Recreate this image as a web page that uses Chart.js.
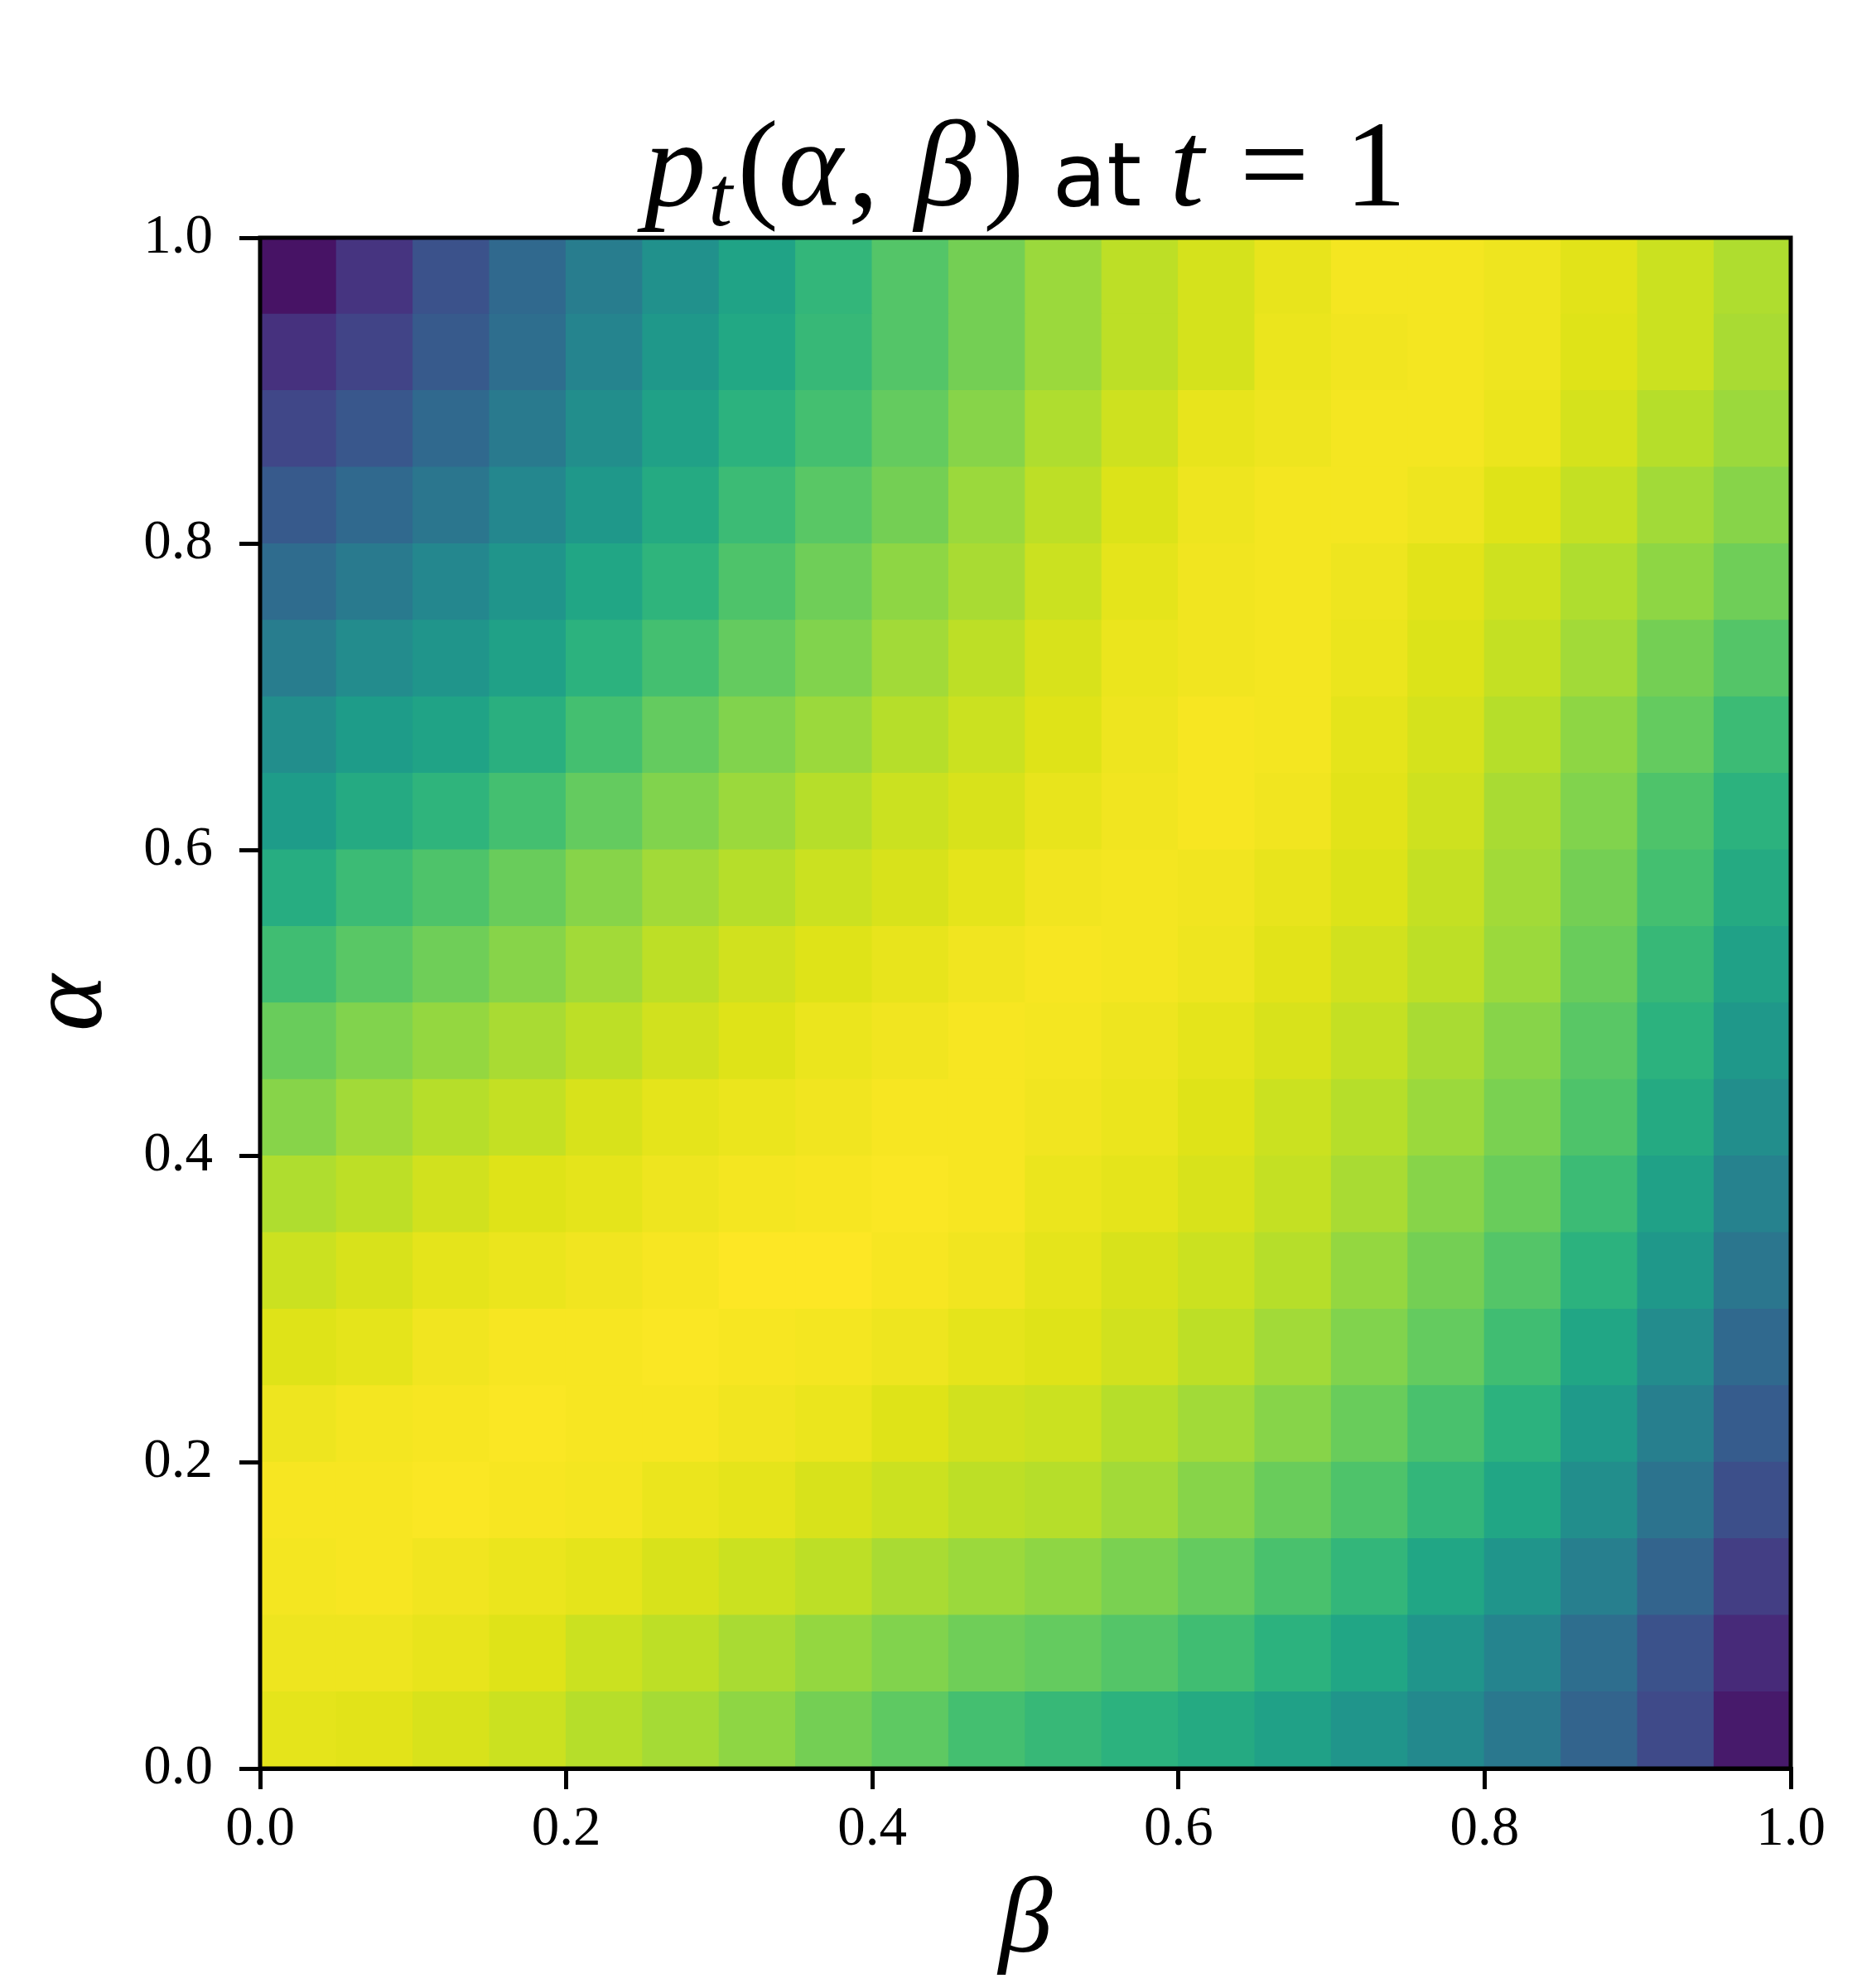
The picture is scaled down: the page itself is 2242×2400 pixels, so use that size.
<!DOCTYPE html>
<html>
<head>
<meta charset="utf-8">
<script src="https://cdn.jsdelivr.net/npm/chart.js@4.4.1/dist/chart.umd.min.js"></script>
<style>
  html, body { margin: 0; padding: 0; background: #ffffff; }
  #wrap { width: 2242px; height: 2400px; position: relative; }
</style>
</head>
<body>
<div id="wrap"><canvas id="c" width="2242" height="2400"></canvas></div>
<script>
// ---------------- DATA ----------------
// cell edges along beta (x) and alpha (y)
const betaEdges  = [0, 0.05, 0.10, 0.15, 0.20, 0.25, 0.30, 0.35, 0.40, 0.45, 0.50,
                    0.55, 0.60, 0.65, 0.70, 0.75, 0.80, 0.85, 0.90, 0.95, 1.00];
const alphaEdges = [0, 0.05, 0.10, 0.15, 0.20, 0.25, 0.30, 0.35, 0.40, 0.45, 0.50,
                    0.55, 0.60, 0.65, 0.70, 0.75, 0.80, 0.85, 0.90, 0.95, 1.00];

// normalised p_t(alpha, beta); one row per alpha cell, bottom (alpha≈0) to top (alpha≈1),
// each row runs over beta from 0 to 1
const pRows = [
  [0.96, 0.955, 0.94, 0.92, 0.89, 0.865, 0.83, 0.79, 0.75, 0.70, 0.67, 0.64, 0.61, 0.57, 0.52, 0.47, 0.40, 0.32, 0.22, 0.07],
  [0.975, 0.975, 0.965, 0.95, 0.92, 0.90, 0.87, 0.84, 0.81, 0.78, 0.76, 0.73, 0.69, 0.64, 0.59, 0.52, 0.45, 0.36, 0.25, 0.12],
  [0.985, 0.99, 0.98, 0.97, 0.96, 0.94, 0.92, 0.90, 0.87, 0.85, 0.83, 0.80, 0.76, 0.71, 0.66, 0.59, 0.52, 0.43, 0.32, 0.18],
  [0.99, 0.99, 0.995, 0.99, 0.985, 0.97, 0.96, 0.94, 0.92, 0.90, 0.89, 0.86, 0.82, 0.77, 0.72, 0.66, 0.59, 0.49, 0.38, 0.24],
  [0.975, 0.985, 0.99, 0.995, 0.99, 0.99, 0.98, 0.97, 0.95, 0.93, 0.92, 0.89, 0.86, 0.82, 0.77, 0.71, 0.64, 0.54, 0.43, 0.29],
  [0.95, 0.96, 0.98, 0.99, 0.99, 0.995, 0.99, 0.985, 0.975, 0.96, 0.95, 0.93, 0.90, 0.86, 0.81, 0.76, 0.69, 0.59, 0.48, 0.34],
  [0.92, 0.94, 0.96, 0.97, 0.98, 0.99, 1.00, 1.00, 0.99, 0.98, 0.96, 0.94, 0.92, 0.89, 0.84, 0.79, 0.73, 0.64, 0.53, 0.39],
  [0.88, 0.90, 0.93, 0.95, 0.96, 0.975, 0.985, 0.99, 0.995, 0.99, 0.97, 0.96, 0.94, 0.91, 0.87, 0.82, 0.77, 0.68, 0.57, 0.44],
  [0.82, 0.86, 0.89, 0.91, 0.94, 0.96, 0.97, 0.98, 0.99, 0.99, 0.98, 0.97, 0.95, 0.92, 0.89, 0.85, 0.80, 0.72, 0.61, 0.49],
  [0.77, 0.81, 0.84, 0.87, 0.90, 0.93, 0.95, 0.97, 0.98, 0.99, 0.985, 0.975, 0.96, 0.94, 0.91, 0.87, 0.82, 0.74, 0.64, 0.53],
  [0.69, 0.74, 0.78, 0.82, 0.86, 0.90, 0.93, 0.95, 0.965, 0.98, 0.99, 0.985, 0.975, 0.955, 0.93, 0.90, 0.85, 0.77, 0.67, 0.57],
  [0.62, 0.68, 0.72, 0.77, 0.82, 0.86, 0.89, 0.92, 0.94, 0.96, 0.98, 0.985, 0.98, 0.965, 0.945, 0.91, 0.86, 0.79, 0.70, 0.61],
  [0.55, 0.61, 0.65, 0.70, 0.76, 0.81, 0.85, 0.89, 0.92, 0.94, 0.965, 0.98, 0.99, 0.98, 0.955, 0.925, 0.87, 0.81, 0.72, 0.64],
  [0.49, 0.55, 0.58, 0.63, 0.70, 0.76, 0.81, 0.85, 0.89, 0.92, 0.95, 0.975, 0.99, 0.985, 0.96, 0.935, 0.89, 0.83, 0.76, 0.68],
  [0.42, 0.48, 0.52, 0.57, 0.64, 0.70, 0.76, 0.81, 0.86, 0.90, 0.94, 0.97, 0.98, 0.985, 0.97, 0.945, 0.91, 0.86, 0.79, 0.73],
  [0.35, 0.41, 0.46, 0.52, 0.59, 0.65, 0.72, 0.78, 0.83, 0.87, 0.92, 0.96, 0.98, 0.985, 0.975, 0.955, 0.925, 0.88, 0.83, 0.78],
  [0.28, 0.34, 0.39, 0.46, 0.53, 0.61, 0.68, 0.74, 0.79, 0.85, 0.90, 0.945, 0.975, 0.985, 0.985, 0.975, 0.95, 0.91, 0.86, 0.82],
  [0.21, 0.27, 0.34, 0.41, 0.49, 0.57, 0.64, 0.70, 0.76, 0.82, 0.88, 0.925, 0.965, 0.975, 0.985, 0.985, 0.97, 0.935, 0.89, 0.85],
  [0.14, 0.20, 0.28, 0.36, 0.45, 0.53, 0.60, 0.67, 0.73, 0.79, 0.85, 0.90, 0.935, 0.97, 0.98, 0.985, 0.975, 0.95, 0.92, 0.87],
  [0.05, 0.15, 0.25, 0.34, 0.42, 0.50, 0.58, 0.66, 0.73, 0.79, 0.85, 0.90, 0.935, 0.965, 0.985, 0.985, 0.975, 0.955, 0.92, 0.88]
];

const xTickValues = [0.0, 0.2, 0.4, 0.6, 0.8, 1.0];
const yTickValues = [0.0, 0.2, 0.4, 0.6, 0.8, 1.0];
const xTickLabels = ['0.0', '0.2', '0.4', '0.6', '0.8', '1.0'];
const yTickLabels = ['0.0', '0.2', '0.4', '0.6', '0.8', '1.0'];

// ---------------- STYLE ----------------
// viridis colour map stops (matplotlib), value 0..1 in steps of 0.05
const viridisStops = ['#440154','#471365','#482475','#463480','#414487','#3b528b','#355f8d',
  '#2f6c8e','#2a788e','#25848e','#21918c','#1e9c89','#22a884','#2fb47c','#44bf70',
  '#5ec962','#7ad151','#9bd93c','#bddf26','#dfe318','#fde725'];

function hexToRgb(h) {
  return [parseInt(h.slice(1,3),16), parseInt(h.slice(3,5),16), parseInt(h.slice(5,7),16)];
}
const viridisRgb = viridisStops.map(hexToRgb);
function viridis(v) {
  v = Math.max(0, Math.min(1, v));
  const n = viridisRgb.length - 1;
  const f = v * n;
  const i = Math.min(n - 1, Math.floor(f));
  const t = f - i;
  const a = viridisRgb[i], b = viridisRgb[i + 1];
  const c = a.map((x, k) => Math.round(x + (b[k] - x) * t));
  return 'rgb(' + c[0] + ',' + c[1] + ',' + c[2] + ')';
}

// one floating-bar dataset per alpha row
const datasets = pRows.map((row, k) => ({
  type: 'bar',
  data: row.map((v, i) => ({
    x: (betaEdges[i] + betaEdges[i + 1]) / 2,
    y: [alphaEdges[k], alphaEdges[k + 1]]
  })),
  backgroundColor: row.map(viridis),
  borderWidth: 0,
  borderSkipped: false,
  grouped: false,
  barPercentage: 1.0,
  categoryPercentage: 1.0,
  inflateAmount: 0.7
}));

const serif = '"Liberation Serif", "DejaVu Serif", serif';

const framePlugin = {
  id: 'frame',
  afterDatasetsDraw(chart) {
    const {ctx, chartArea: a} = chart;
    ctx.save();
    ctx.strokeStyle = '#000';
    ctx.lineWidth = 5;
    ctx.strokeRect(a.left, a.top, a.right - a.left, a.bottom - a.top);
    ctx.restore();
  }
};

const titlePlugin = {
  id: 'mathTitle',
  afterDraw(chart) {
    const {ctx, chartArea: a} = chart;
    const targetWidth = 920;
    const build = (S) => [
      {t: 'p', f: 'italic ' + S + 'px ' + serif, dy: 0},
      {t: 't', f: 'italic ' + (S * 0.7) + 'px ' + serif, dy: S * 0.16, pre: S * 0.02},
      {t: '(', f: S + 'px ' + serif, dy: 0, pre: S * 0.04},
      {t: 'α', f: 'italic ' + S + 'px ' + serif, dy: 0},
      {t: ',', f: S + 'px ' + serif, dy: 0, pre: S * 0.04},
      {t: ' β', f: 'italic ' + S + 'px ' + serif, dy: 0, pre: S * 0.04},
      {t: ')', f: S + 'px ' + serif, dy: 0, pre: S * 0.06},
      {t: ' at ', f: (S * 0.72) + 'px "DejaVu Sans", sans-serif', dy: 0},
      {t: 't', f: 'italic ' + S + 'px ' + serif, dy: 0},
      {t: ' = ', f: S + 'px ' + serif, dy: 0, pre: S * 0.04},
      {t: '1', f: S + 'px ' + serif, dy: 0, pre: S * 0.04}
    ];
    ctx.save();
    const measure = (segs) => {
      let tot = 0;
      segs.forEach(s => { ctx.font = s.f; s.w = ctx.measureText(s.t).width + (s.pre || 0); tot += s.w; });
      return tot;
    };
    const w100 = measure(build(100));
    const S = 100 * targetWidth / w100;
    const segs = build(S);
    const total = measure(segs);
    ctx.fillStyle = '#000';
    ctx.textBaseline = 'alphabetic';
    ctx.textAlign = 'left';
    let x = (a.left + a.right) / 2 - total / 2;
    const y = 248;
    segs.forEach(s => {
      ctx.font = s.f;
      ctx.fillText(s.t, x + (s.pre || 0), y + s.dy);
      x += s.w;
    });
    ctx.restore();
  }
};

new Chart(document.getElementById('c'), {
  type: 'bar',
  data: { datasets: datasets },
  options: {
    responsive: false,
    devicePixelRatio: 1,
    animation: false,
    events: [],
    layout: { padding: { top: 287, right: 80, bottom: 0, left: 0 } },
    plugins: { legend: { display: false }, tooltip: { enabled: false }, title: { display: false } },
    scales: {
      x: {
        type: 'linear',
        min: 0, max: 1,
        offset: false,
        afterFit(scale) { scale.height = 265; },
        afterBuildTicks(scale) { scale.ticks = xTickValues.map(v => ({value: v})); },
        ticks: {
          callback: (v, i) => xTickLabels[i],
          color: '#000',
          font: { family: serif, size: 67 },
          padding: 9,
          maxRotation: 0,
          autoSkip: false
        },
        grid: { offset: false, drawOnChartArea: false, drawTicks: true, tickLength: 25, color: '#000', lineWidth: 5 },
        border: { display: true, color: '#000', width: 5 },
        title: { display: true, text: 'β', color: '#000', font: { family: serif, style: 'italic', size: 130 }, padding: { top: 0, bottom: 0 } }
      },
      y: {
        type: 'linear',
        min: 0, max: 1,
        afterFit(scale) { scale.width = 314; },
        afterBuildTicks(scale) { scale.ticks = yTickValues.map(v => ({value: v})); },
        ticks: {
          callback: (v, i) => yTickLabels[i],
          color: '#000',
          font: { family: serif, size: 67 },
          padding: 32,
          autoSkip: false
        },
        grid: { drawOnChartArea: false, drawTicks: true, tickLength: 25, color: '#000', lineWidth: 5 },
        border: { display: true, color: '#000', width: 5 },
        title: { display: true, text: 'α', color: '#000', font: { family: serif, style: 'italic', size: 130 }, padding: { top: 10, bottom: 0 } }
      }
    }
  },
  plugins: [framePlugin, titlePlugin]
});
</script>
</body>
</html>
